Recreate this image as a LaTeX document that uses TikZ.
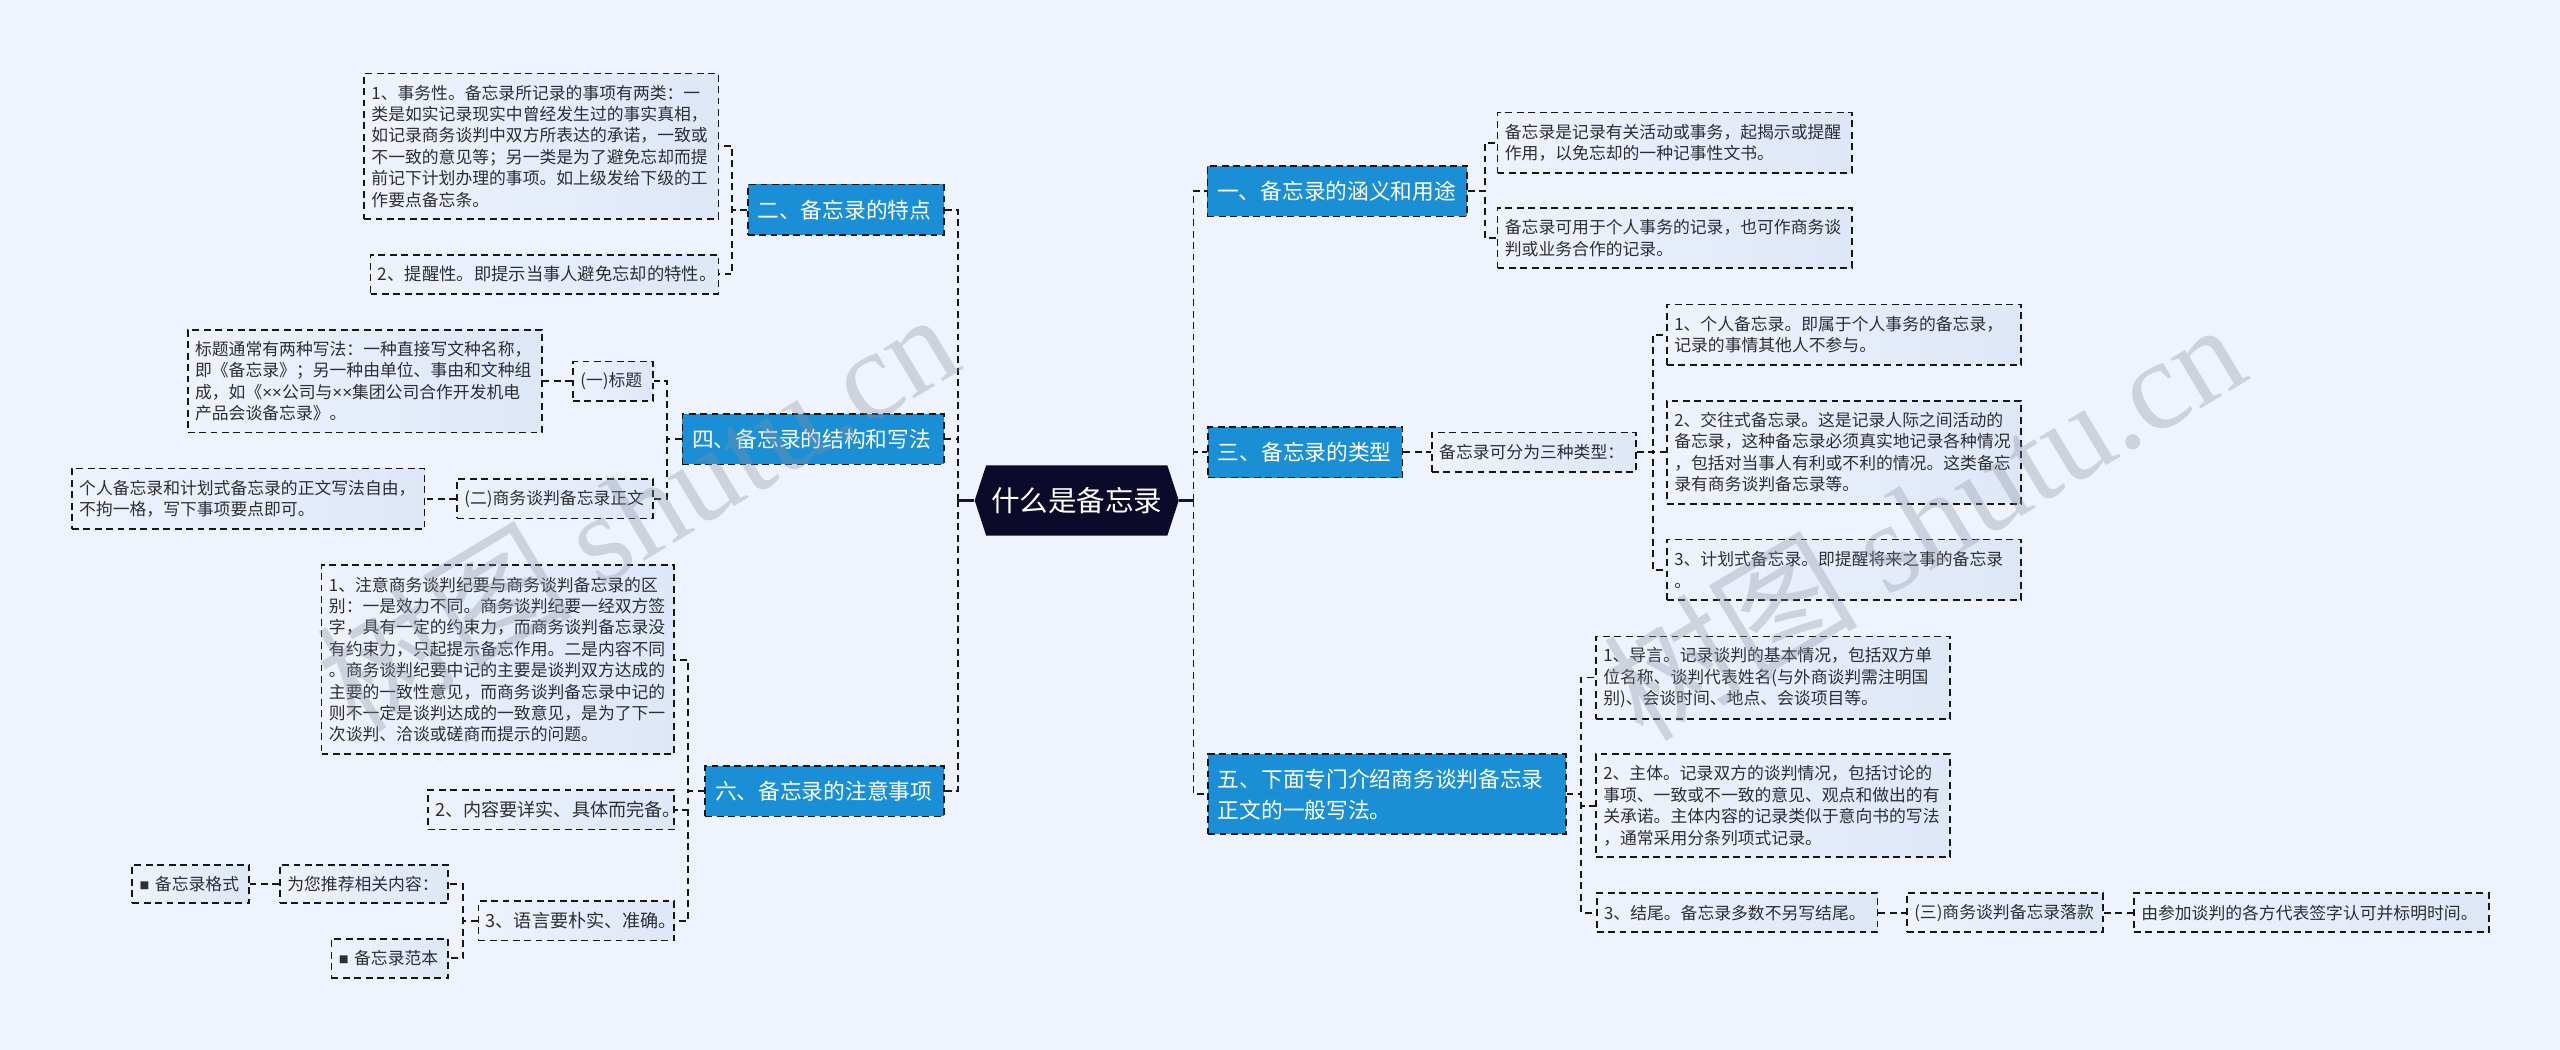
\documentclass[tikz,border=0pt]{standalone}
\usepackage{fontspec}
\setmainfont{Noto Sans CJK SC}
\newfontfamily\wmfont{Liberation Serif}
\newfontfamily\narrowx{Liberation Sans}
\definecolor{bgc}{RGB}{238,243,253}
\definecolor{leafl}{RGB}{238,243,253}
\definecolor{leafr}{RGB}{222,231,248}
\definecolor{branchc}{RGB}{26,143,213}
\definecolor{linec}{RGB}{22,22,32}
\definecolor{txtc}{RGB}{45,45,50}
\definecolor{rootc}{RGB}{12,10,42}
\definecolor{wmc}{RGB}{140,145,158}
\tikzset{
  leaf/.style={draw=linec, line width=1pt, dash pattern=on 4.2pt off 2.8pt,
    left color=leafl, right color=leafr, text=txtc, inner xsep=4.5pt, inner ysep=0pt,
    align=left, font=\fontsize{10.3pt}{13.1pt}\selectfont},
  branch/.style={draw=linec, line width=1pt, dash pattern=on 4.2pt off 2.8pt,
    fill=branchc, text=white, inner xsep=6pt, inner ysep=0pt, align=left,
    font=\fontsize{13.3pt}{19pt}\selectfont},
  conn/.style={draw=linec, line width=1.1pt, dash pattern=on 4.2pt off 2.8pt},
  stub/.style={draw=linec, line width=1.6pt},
  wm/.style={rotate=31, text=wmc, text opacity=0.33, inner sep=0pt,
    font=\fontsize{78pt}{78pt}\selectfont},
}
\newcommand{\sqb}{\raisebox{0.6pt}{\fontsize{6pt}{6pt}\selectfont ■}~}
\begin{document}
\begin{tikzpicture}[x=1pt,y=-1pt]
\fill[bgc] (0,0) rectangle (1568,643);
\useasboundingbox (0,0) rectangle (1568,643);

% root
\node[minimum width=125pt, minimum height=43pt, inner sep=0pt, text=white,
  font=\fontsize{17.5pt}{20pt}\selectfont,
  path picture={\fill[rootc] (path picture bounding box.west)
    -- ([xshift=7pt]path picture bounding box.north west)
    -- ([xshift=-7pt]path picture bounding box.north east)
    -- (path picture bounding box.east)
    -- ([xshift=-7pt]path picture bounding box.south east)
    -- ([xshift=7pt]path picture bounding box.south west) -- cycle;}]
  (root) at (659.5,306.5) {什么是备忘录};
\coordinate (rt) at (731,306.5);
\coordinate (lt) at (587,306.5);

% right side
\node[branch, minimum width=159pt, text width=147pt, minimum height=31pt] (R1) at (819,117) {一、备忘录的涵义和用途};
\node[leaf, minimum width=217pt, text width=208pt, minimum height=37pt] (R1a) at (1025.75,87.5) {备忘录是记录有关活动或事务，起揭示或提醒\\作用，以免忘却的一种记事性文书。};
\node[leaf, minimum width=217pt, text width=208pt, minimum height=37pt] (R1b) at (1025.75,145.75) {备忘录可用于个人事务的记录，也可作商务谈\\判或业务合作的记录。};

\node[branch, minimum width=119pt, text width=107pt, minimum height=31pt] (R3) at (799.5,277) {三、备忘录的类型};
\node[leaf, minimum width=125pt, text width=116pt, minimum height=24pt] (R3a) at (939.5,277) {备忘录可分为三种类型：};
\node[leaf, minimum width=217pt, text width=208pt, minimum height=37pt] (R3a1) at (1129.5,205) {1、个人备忘录。即属于个人事务的备忘录，\\记录的事情其他人不参与。};
\node[leaf, minimum width=217pt, text width=208pt, minimum height=63pt] (R3a2) at (1129.5,277) {2、交往式备忘录。这是记录人际之间活动的\\备忘录，这种备忘录必须真实地记录各种情况\\，包括对当事人有利或不利的情况。这类备忘\\录有商务谈判备忘录等。};
\node[leaf, minimum width=217pt, text width=208pt, minimum height=37pt] (R3a3) at (1129.5,349) {3、计划式备忘录。即提醒将来之事的备忘录\\。};

\node[branch, minimum width=219pt, text width=207pt, minimum height=49pt] (R5) at (849.5,486.5) {五、下面专门介绍商务谈判备忘录\\正文的一般写法。};
\node[leaf, minimum width=217pt, text width=208pt, minimum height=50.5pt] (R5a) at (1086,415) {1、导言。记录谈判的基本情况，包括双方单\\位名称、谈判代表姓名(与外商谈判需注明国\\别)、会谈时间、地点、会谈项目等。};
\node[leaf, minimum width=217pt, text width=208pt, minimum height=63pt] (R5b) at (1086,493.5) {2、主体。记录双方的谈判情况，包括讨论的\\事项、一致或不一致的意见、观点和做出的有\\关承诺。主体内容的记录类似于意向书的写法\\，通常采用分条列项式记录。};
\node[leaf, minimum width=172pt, text width=163pt, minimum height=24pt] (R5c) at (1064,559) {3、结尾。备忘录多数不另写结尾。};
\node[leaf, minimum width=120pt, text width=111pt, minimum height=24pt] (R5c1) at (1228,559) {(三)商务谈判备忘录落款};
\node[leaf, minimum width=217.5pt, text width=208.5pt, minimum height=24pt] (R5c2) at (1415.75,559) {由参加谈判的各方代表签字认可并标明时间。};

% left side
\node[branch, minimum width=120pt, text width=108pt, minimum height=31pt] (L2) at (518,128.5) {二、备忘录的特点};
\node[leaf, minimum width=217pt, text width=208pt, minimum height=89pt] (L2a) at (331.5,89.5) {1、事务性。备忘录所记录的事项有两类：一\\类是如实记录现实中曾经发生过的事实真相，\\如记录商务谈判中双方所表达的承诺，一致或\\不一致的意见等；另一类是为了避免忘却而提\\前记下计划办理的事项。如上级发给下级的工\\作要点备忘条。};
\node[leaf, minimum width=213pt, text width=204pt, minimum height=24pt, font=\fontsize{10.6pt}{13pt}\selectfont] (L2b) at (333.5,168) {2、提醒性。即提示当事人避免忘却的特性。};

\node[branch, minimum width=160pt, text width=148pt, minimum height=31pt] (L4) at (498,269) {四、备忘录的结构和写法};
\node[leaf, minimum width=49pt, text width=40pt, minimum height=24pt] (L4a) at (375.5,233.5) {(一)标题};
\node[leaf, minimum width=217pt, text width=208pt, minimum height=63pt] (L4a1) at (223.5,233.5) {标题通常有两种写法：一种直接写文种名称，\\即《备忘录》；另一种由单位、事由和文种组\\成，如《{\narrowx ××}公司与{\narrowx ××}集团公司合作开发机电\\产品会谈备忘录》。};
\node[leaf, minimum width=120pt, text width=111pt, minimum height=24pt] (L4b) at (340,305.5) {(二)商务谈判备忘录正文};
\node[leaf, minimum width=216pt, text width=207pt, minimum height=37pt] (L4b1) at (152,305.5) {个人备忘录和计划式备忘录的正文写法自由，\\不拘一格，写下事项要点即可。};

\node[branch, minimum width=146pt, text width=134pt, minimum height=31pt] (L6) at (505,484.5) {六、备忘录的注意事项};
\node[leaf, minimum width=216pt, text width=207pt, minimum height=116pt] (L6a) at (305,404) {1、注意商务谈判纪要与商务谈判备忘录的区\\别：一是效力不同。商务谈判纪要一经双方签\\字，具有一定的约束力，而商务谈判备忘录没\\有约束力，只起提示备忘作用。二是内容不同\\。商务谈判纪要中记的主要是谈判双方达成的\\主要的一致性意见，而商务谈判备忘录中记的\\则不一定是谈判达成的一致意见，是为了下一\\次谈判、洽谈或磋商而提示的问题。};
\node[leaf, minimum width=151pt, text width=142pt, minimum height=24pt, font=\fontsize{11.1pt}{13pt}\selectfont] (L6b) at (337.5,496) {2、内容要详实、具体而完备。};
\node[leaf, minimum width=120pt, text width=111pt, minimum height=24pt, font=\fontsize{11.1pt}{13pt}\selectfont] (L6c) at (353,564) {3、语言要朴实、准确。};
\node[leaf, minimum width=103pt, text width=94pt, minimum height=23.5pt] (L6c1) at (223,541.5) {为您推荐相关内容：};
\node[leaf, minimum width=71.5pt, text width=62.5pt, minimum height=23.5pt] (L6c1a) at (116.75,541.5) {\sqb 备忘录格式};
\node[leaf, minimum width=71.5pt, text width=62.5pt, minimum height=24pt] (L6c2) at (238.75,587) {\sqb 备忘录范本};

% connectors
\draw[stub] (root.east) -- (rt);
\draw[stub] (root.west) -- (lt);
\draw[conn] (rt) |- (R1.west);
\draw[conn] (rt) |- (R3.west);
\draw[conn] (rt) |- (R5.west);
\draw[conn] (lt) |- (L2.east);
\draw[conn] (lt) |- (L4.east);
\draw[conn] (lt) |- (L6.east);

\draw[conn] (R1.east) -- ++(10.5,0) |- (R1a.west);
\draw[conn] (R1.east) -- ++(10.5,0) |- (R1b.west);
\draw[conn] (R3.east) -- (R3a.west);
\draw[conn] (R3a.east) -- ++(10,0) |- (R3a1.west);
\draw[conn] (R3a.east) -- ++(10,0) |- (R3a2.west);
\draw[conn] (R3a.east) -- ++(10,0) |- (R3a3.west);
\draw[conn] (R5.east) -- ++(9,0) |- (R5a.west);
\draw[conn] (R5.east) -- ++(9,0) |- (R5b.west);
\draw[conn] (R5.east) -- ++(9,0) |- (R5c.west);
\draw[conn] (R5c.east) -- (R5c1.west);
\draw[conn] (R5c1.east) -- (R5c2.west);

\draw[conn] (L2.west) -- ++(-9,0) |- (L2a.east);
\draw[conn] (L2.west) -- ++(-9,0) |- (L2b.east);
\draw[conn] (L4.west) -- ++(-9,0) |- (L4a.east);
\draw[conn] (L4.west) -- ++(-9,0) |- (L4b.east);
\draw[conn] (L4a.west) -- (L4a1.east);
\draw[conn] (L4b.west) -- (L4b1.east);
\draw[conn] (L6.west) -- ++(-10,0) |- (L6a.east);
\draw[conn] (L6.west) -- ++(-10,0) |- (L6b.east);
\draw[conn] (L6.west) -- ++(-10,0) |- (L6c.east);
\draw[conn] (L6c.west) -- ++(-9,0) |- (L6c1.east);
\draw[conn] (L6c.west) -- ++(-9,0) |- (L6c2.east);
\draw[conn] (L6c1.west) -- (L6c1a.east);

% watermarks
\node[wm] (wmA) at (390,312) {树图 {\wmfont shutu.cn}};
\node[wm] (wmB) at (1178,318) {树图 {\wmfont shutu.cn}};
\end{tikzpicture}
\end{document}
